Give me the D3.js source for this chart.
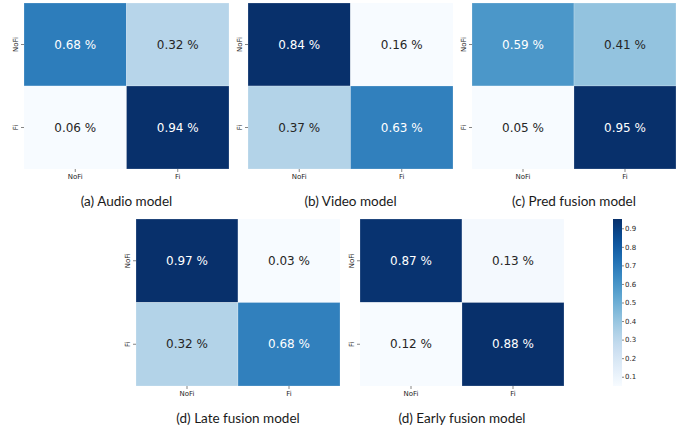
<!DOCTYPE html>
<html>
<head>
<meta charset="utf-8">
<script src="https://cdn.jsdelivr.net/npm/d3@7"></script>
<style>
  html, body { margin: 0; padding: 0; background: #ffffff; }
  svg { display: block; }
</style>
</head>
<body>
<svg id="chart" width="684" height="432"></svg>
<script>
// ---- data ----
const classes = ["NoFi", "Fi"];
const captions = ["(a) Audio model", "(b) Video model", "(c) Pred fusion model", "(d) Late fusion model", "(d) Early fusion model"];
const audioValues = [[0.68, 0.32], [0.06, 0.94]];
const videoValues = [[0.84, 0.16], [0.37, 0.63]];
const predValues  = [[0.59, 0.41], [0.05, 0.95]];
const lateValues  = [[0.97, 0.03], [0.32, 0.68]];
const earlyValues = [[0.87, 0.13], [0.12, 0.88]];
const colorbarTicks = [0.1, 0.2, 0.3, 0.4, 0.5, 0.6, 0.7, 0.8, 0.9];

const matrices = [audioValues, videoValues, predValues, lateValues, earlyValues];

// ---- layout ----
const layout = [
  { x: 24,  y: 3,   w: 205, h: 166 },
  { x: 248, y: 3,   w: 205, h: 166 },
  { x: 472, y: 3,   w: 204, h: 166 },
  { x: 136, y: 219, w: 204, h: 167 },
  { x: 360, y: 219, w: 204, h: 167 }
];

const svg = d3.select("#chart");

function relLum(c) {
  const rgb = d3.rgb(c);
  const f = v => { v /= 255; return v <= 0.03928 ? v / 12.92 : Math.pow((v + 0.055) / 1.055, 2.4); };
  return 0.2126 * f(rgb.r) + 0.7152 * f(rgb.g) + 0.0722 * f(rgb.b);
}

matrices.forEach((m, i) => {
  const L = layout[i];
  const g = svg.append("g").attr("transform", `translate(${L.x},${L.y})`);
  const x = d3.scaleBand().domain(classes).range([0, L.w]);
  const y = d3.scaleBand().domain(classes).range([0, L.h]);
  const flat = m.flat();
  const color = d3.scaleSequential(d3.interpolateBlues).domain([d3.min(flat), d3.max(flat)]);

  const cells = [];
  classes.forEach((r, ri) => classes.forEach((c, ci) => cells.push({ r, c, v: m[ri][ci] })));

  g.selectAll("rect.cell").data(cells).join("rect")
    .attr("class", "cell")
    .attr("x", d => x(d.c)).attr("y", d => y(d.r))
    .attr("width", x.bandwidth()).attr("height", y.bandwidth())
    .attr("fill", d => color(d.v))
    .attr("stroke", "#ffffff").attr("stroke-opacity", 0.35).attr("stroke-width", 0.6);

  g.selectAll("text.annot").data(cells).join("text")
    .attr("class", "annot")
    .attr("x", d => x(d.c) + x.bandwidth() / 2)
    .attr("y", d => y(d.r) + y.bandwidth() / 2)
    .attr("text-anchor", "middle")
    .attr("dominant-baseline", "central")
    .attr("font-family", "DejaVu Sans")
    .attr("font-size", 12)
    .attr("fill", d => relLum(color(d.v)) > 0.408 ? "#262626" : "#ffffff")
    .text(d => d.v.toFixed(2) + " %");

  const xAxis = g.append("g").attr("transform", `translate(0,${L.h})`)
    .call(d3.axisBottom(x).tickSize(3).tickPadding(2));
  const yAxis = g.append("g")
    .call(d3.axisLeft(y).tickSize(3).tickPadding(2));
  [xAxis, yAxis].forEach(a => {
    a.select(".domain").remove();
    a.selectAll("line").attr("stroke", "#333333").attr("stroke-width", 0.6);
    a.selectAll("text").attr("font-family", "DejaVu Sans").attr("font-size", 7).attr("fill", "#262626");
  });
  yAxis.selectAll(".tick text")
    .attr("transform", "rotate(-90)")
    .attr("text-anchor", "middle")
    .attr("x", 0).attr("y", -6)
    .attr("dy", "0");

  svg.append("text")
    .attr("x", L.x + L.w / 2)
    .attr("y", L.y + L.h + 37)
    .attr("text-anchor", "middle")
    .attr("font-family", "Lato")
    .attr("font-size", 13.5)
    .attr("fill", "#1a1a1a")
    .text(captions[i]);
});

// ---- colorbar ----
const cb = { x: 613, y0: 219, y1: 386, w: 9 };
const cbScale = d3.scaleLinear().domain([0.05, 0.95]).range([cb.y1, cb.y0]);
const defs = svg.append("defs");
const grad = defs.append("linearGradient").attr("id", "cbgrad")
  .attr("x1", 0).attr("y1", 1).attr("x2", 0).attr("y2", 0);
d3.range(0, 1.0001, 0.05).forEach(t => {
  grad.append("stop").attr("offset", t).attr("stop-color", d3.interpolateBlues(t));
});
svg.append("rect")
  .attr("x", cb.x).attr("y", cb.y0)
  .attr("width", cb.w).attr("height", cb.y1 - cb.y0)
  .attr("fill", "url(#cbgrad)");
const cbAxis = svg.append("g").attr("transform", `translate(${cb.x + cb.w},0)`)
  .call(d3.axisRight(cbScale).tickValues(colorbarTicks).tickSize(2).tickPadding(1).tickFormat(d3.format(".1f")));
cbAxis.select(".domain").remove();
cbAxis.selectAll("line").attr("stroke", "#333333").attr("stroke-width", 0.6);
cbAxis.selectAll("text").attr("font-family", "DejaVu Sans").attr("font-size", 7).attr("fill", "#262626");
</script>
</body>
</html>
